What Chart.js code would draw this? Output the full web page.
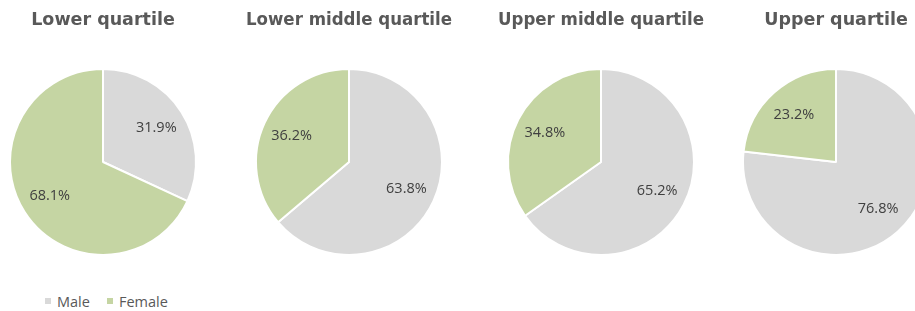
<!DOCTYPE html>
<html><head><meta charset="utf-8">
<script src="https://cdn.jsdelivr.net/npm/chart.js@4/dist/chart.umd.min.js"></script>
<style>
html,body{margin:0;padding:0;background:#fff;width:915px;height:311px;overflow:hidden;position:relative;}
.pie{position:absolute;top:0;}
#legend{position:absolute;left:45px;top:291px;height:20px;font-family:"Open Sans",sans-serif;font-size:14.5px;color:#595959;display:flex;align-items:center;}
#legend span.sw{display:inline-block;width:6px;height:6px;margin-right:6px;}
#legend span.it{display:flex;align-items:center;margin-right:17px;}
</style></head>
<body>
<canvas id="c0" class="pie" width="206" height="256"></canvas>
<canvas id="c1" class="pie" width="206" height="256"></canvas>
<canvas id="c2" class="pie" width="206" height="256"></canvas>
<canvas id="c3" class="pie" width="206" height="256"></canvas>
<div id="legend"></div>
<script>
const categories = ["Male", "Female"];
const quartiles = ["Lower quartile", "Lower middle quartile", "Upper middle quartile", "Upper quartile"];
const maleValues = [31.9, 63.8, 65.2, 76.8];
const femaleValues = [68.1, 36.2, 34.8, 23.2];
const colors = ["#d9d9d9", "#c5d5a3"];
const centersX = [103, 349, 601, 836];

const labelPlugin = {
  id: 'sliceLabels',
  afterDatasetsDraw(chart) {
    const ctx = chart.ctx;
    const meta = chart.getDatasetMeta(0);
    ctx.save();
    ctx.font = '14.5px "Open Sans", sans-serif';
    ctx.fillStyle = '#404040';
    ctx.textAlign = 'center';
    ctx.textBaseline = 'middle';
    meta.data.forEach((arc, i) => {
      const mid = (arc.startAngle + arc.endAngle) / 2;
      const r = arc.outerRadius * 0.68;
      const x = arc.x + Math.cos(mid) * r;
      const y = arc.y + Math.sin(mid) * r;
      const v = chart.data.datasets[0].data[i];
      ctx.fillText(v.toFixed(1) + '%', x, y);
    });
    ctx.restore();
  }
};

quartiles.forEach((q, k) => {
  const cv = document.getElementById('c' + k);
  cv.style.left = (centersX[k] - 103) + 'px';
  new Chart(cv, {
    type: 'pie',
    data: {
      labels: categories,
      datasets: [{
        data: [maleValues[k], femaleValues[k]],
        backgroundColor: colors,
        borderColor: '#ffffff',
        borderWidth: 2
      }]
    },
    options: {
      responsive: false,
      animation: false,
      layout: { padding: 0 },
      plugins: {
        legend: { display: false },
        tooltip: { enabled: false },
        title: {
          display: true,
          text: q,
          color: '#595959',
          font: { family: '"DejaVu Sans", sans-serif', size: 17.5, weight: 'bold' },
          padding: { top: 10, bottom: 37 }
        }
      }
    },
    plugins: [labelPlugin]
  });
});

const lg = document.getElementById('legend');
categories.forEach((c, i) => {
  const it = document.createElement('span');
  it.className = 'it';
  const sw = document.createElement('span');
  sw.className = 'sw';
  sw.style.background = colors[i];
  it.appendChild(sw);
  it.appendChild(document.createTextNode(c));
  lg.appendChild(it);
});
</script>
</body></html>
